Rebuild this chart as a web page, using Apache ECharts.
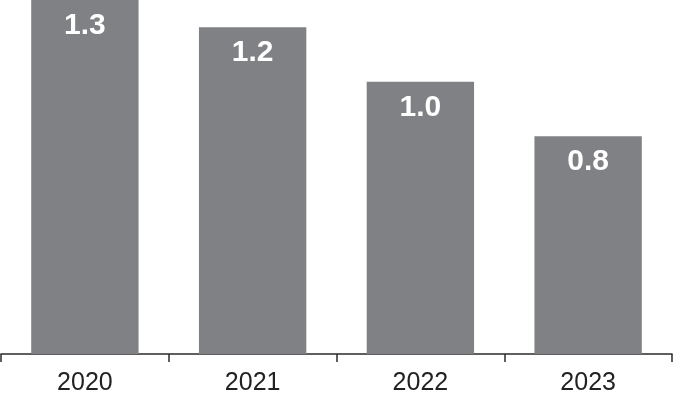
<!DOCTYPE html>
<html><head><meta charset="utf-8">
<script src="https://cdn.jsdelivr.net/npm/echarts@6/dist/echarts.min.js"></script>
<style>html,body{margin:0;padding:0;background:#fff}#c{width:673px;height:401px}</style>
</head><body><div id="c"></div>
<script>
const categories = ['2020', '2021', '2022', '2023'];
const values = [1.3, 1.2, 1.0, 0.8];

const chart = echarts.init(document.getElementById('c'), null, {renderer: 'canvas'});
chart.setOption({
  animation: false,
  grid: {left: 1, right: 1, top: 0, bottom: 47, containLabel: false},
  xAxis: {
    type: 'category', data: categories,
    axisLine: {lineStyle: {color: '#2b2b2b', width: 1.5}},
    axisTick: {show: true, length: 8, lineStyle: {color: '#2b2b2b', width: 1.5}},
    axisLabel: {color: '#222', fontSize: 25, fontFamily: '"Liberation Sans Narrow", "Arial Narrow", "Liberation Sans", Arial, sans-serif', margin: 17}
  },
  yAxis: {type: 'value', min: 0, max: 1.3, show: false, splitLine: {show: false}},
  series: [{
    type: 'bar', data: values, barWidth: '64%',
    itemStyle: {color: '#808184'},
    label: {show: true, position: 'insideTop', distance: 11, color: '#fff', fontWeight: 'bold', fontSize: 30,
      fontFamily: '"Liberation Sans", Arial, sans-serif',
      formatter: p => p.value.toFixed(1)}
  }]
});
</script></body></html>
